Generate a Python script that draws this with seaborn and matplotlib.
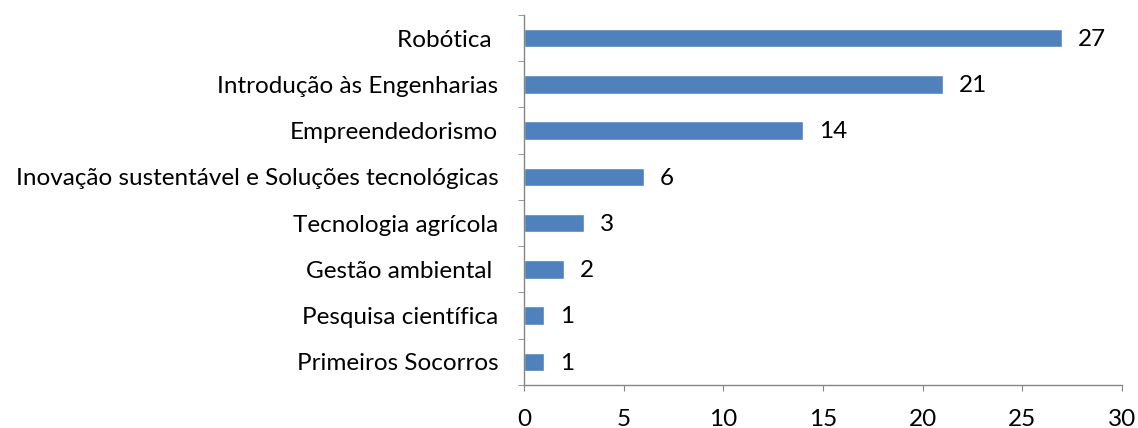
import matplotlib
matplotlib.use("Agg")
import matplotlib.pyplot as plt
import seaborn as sns
import pandas as pd
import numpy as np

# %% data
cursos = ["Robótica ", "Introdução às Engenharias", "Empreendedorismo",
          "Inovação sustentável e Soluções tecnológicas", "Tecnologia agrícola",
          "Gestão ambiental ", "Pesquisa científica", "Primeiros Socorros"]
valores = [27, 21, 14, 6, 3, 2, 1, 1]
xticks = [0, 5, 10, 15, 20, 25, 30]

df = pd.DataFrame({"curso": cursos, "n": valores})

# %% plot
sns.set_style("white")
plt.rcParams["font.family"] = ["Lato", "DejaVu Sans"]
plt.rcParams["text.color"] = "black"
plt.rcParams["xtick.labelcolor"] = "black"
plt.rcParams["ytick.labelcolor"] = "black"
fs = 17.5

fig = plt.figure(figsize=(11.38, 4.28), dpi=100)
ax = fig.add_axes([0.4605, 0.1005, 0.5255, 0.8645])
sns.barplot(data=df, y="curso", x="n", orient="h", color="#4F81BD",
            saturation=1, width=0.4, ax=ax)

for i, v in enumerate(valores):
    ax.text(v + 0.8, i + 0.03, str(v), va="center", ha="left", fontsize=fs,
            color="black")

ax.set_xlim(0, 30)
ax.set_ylim(len(cursos) - 0.5, -0.5)
ax.set_xticks(xticks)
ax.set_xlabel("")
ax.set_ylabel("")
ax.tick_params(axis="x", labelsize=fs, length=4.3, color="#868686",
               labelcolor="black", direction="out", pad=13, bottom=True)
ax.tick_params(axis="y", which="major", labelsize=fs, length=0, pad=18.5,
               labelcolor="black")
ax.set_yticks(np.arange(-0.5, len(cursos), 1), minor=True)
ax.tick_params(axis="y", which="minor", length=4.3, color="#868686",
               direction="out", left=True)
for s in ["top", "right"]:
    ax.spines[s].set_visible(False)
for s in ["left", "bottom"]:
    ax.spines[s].set_color("#868686")
    ax.spines[s].set_linewidth(1)
ax.grid(False)

fig.savefig("out.png", dpi=100)
